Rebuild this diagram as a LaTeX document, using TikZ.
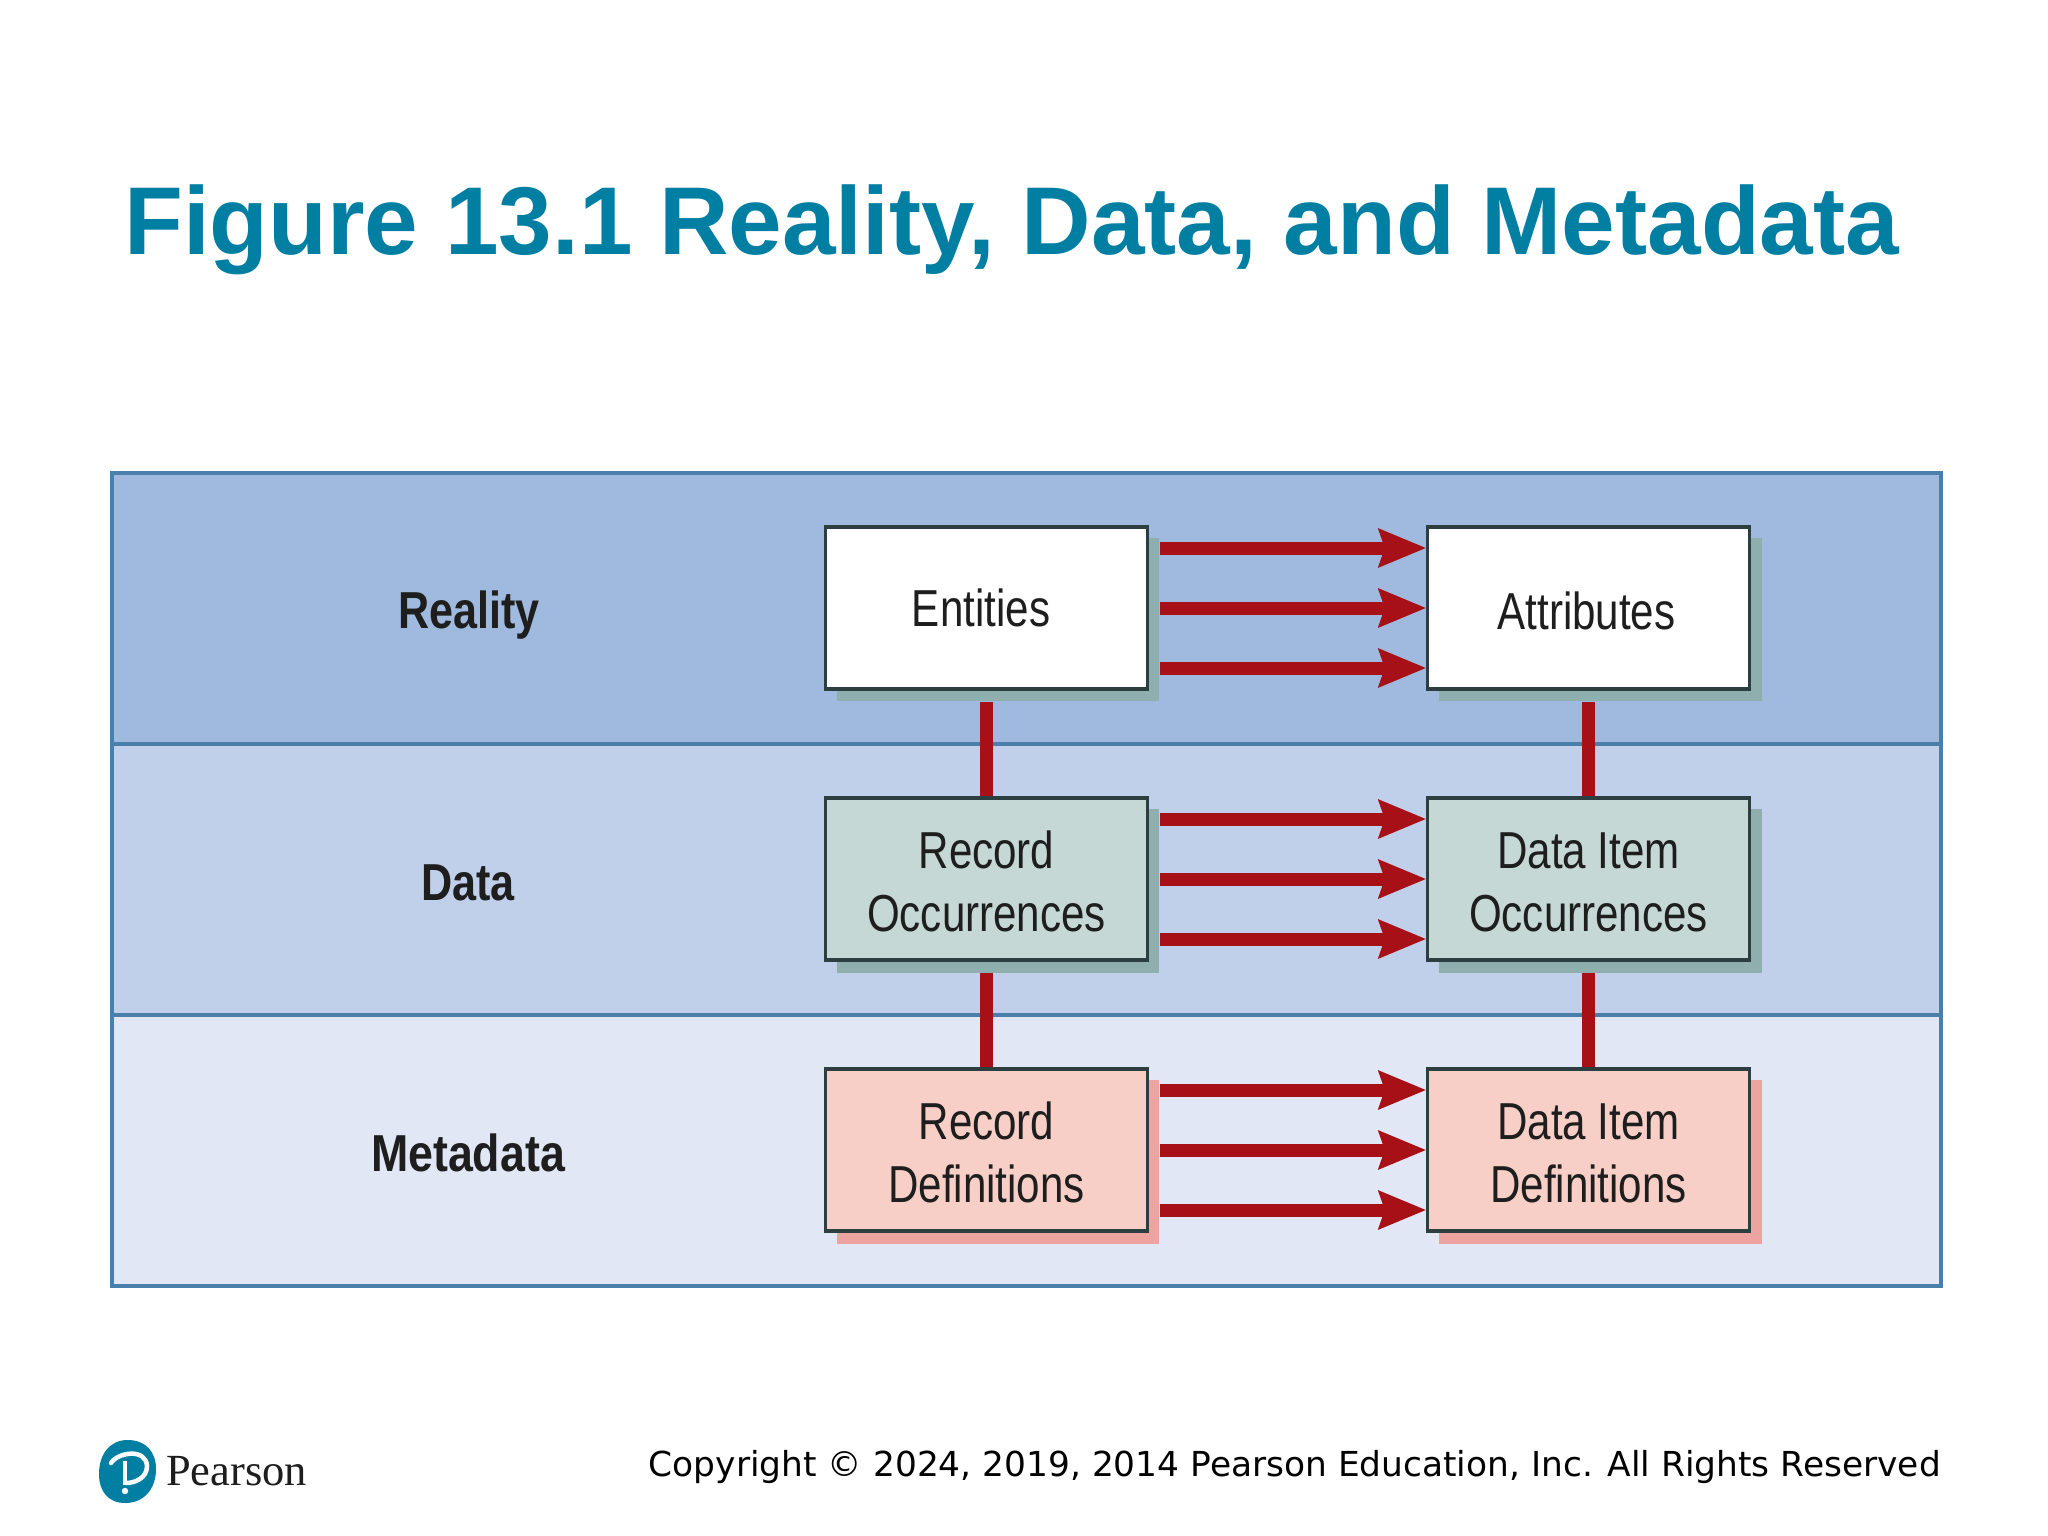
\documentclass[tikz,border=0pt]{standalone}
\usepackage{fontspec}
\usetikzlibrary{arrows.meta,calc}
\setmainfont{Liberation Sans}
\newfontfamily\narrowf[FakeStretch=0.81]{Liberation Sans}
\newfontfamily\narrowb[FakeStretch=0.83]{Liberation Sans Bold}
\newfontfamily\copyf{DejaVu Sans}
\newfontfamily\pearsonf{Liberation Serif}
\definecolor{teal}{HTML}{007FA3}
\definecolor{bandA}{HTML}{A0BADF}
\definecolor{bandB}{HTML}{C1D0EA}
\definecolor{bandC}{HTML}{E2E7F5}
\definecolor{bandline}{HTML}{4B7FAB}
\definecolor{boxline}{HTML}{2C3E40}
\definecolor{shadeG}{HTML}{8FAFAE}
\definecolor{shadeR}{HTML}{EDA3A0}
\definecolor{fillG}{HTML}{C5D8D6}
\definecolor{fillR}{HTML}{F7CFC6}
\definecolor{arrowred}{HTML}{A61016}
\definecolor{ink}{HTML}{1E1E1E}
\tikzset{
  band/.style={fill=#1,draw=none},
  bandedge/.style={draw=bandline,line width=3.5pt},
  boxn/.style={draw=boxline,line width=3.5pt,minimum width=322pt,minimum height=162pt,inner sep=0pt,
    align=center,text=ink,font=\fontsize{52}{63}\selectfont\narrowf},
  rowlabel/.style={text=ink,inner sep=0pt,font=\fontsize{52}{63}\selectfont\narrowb},
  flow/.style={draw=arrowred,line width=13pt,shorten <=11pt,shorten >=0pt,
    -{Stealth[length=48pt,width=40pt,inset=7pt,line width=0pt]}},
  link/.style={draw=arrowred,line width=13pt,shorten <=11pt},
}
\begin{document}
\begin{tikzpicture}[x=1pt,y=-1pt]
\useasboundingbox (0,0) rectangle (2048,1536);
\fill[white] (0,0) rectangle (2048,1536);
\node[anchor=base west,inner sep=0pt,text=teal,font=\fontsize{96.3}{120}\selectfont\bfseries] (title) at (124,254) {Figure 13.1 Reality, Data, and Metadata};
\fill[band=bandA] (112,473) rectangle (1941,744);
\fill[band=bandB] (112,744) rectangle (1941,1015);
\fill[band=bandC] (112,1015) rectangle (1941,1286);
\draw[bandedge] (112,744) -- (1941,744);
\draw[bandedge] (112,1015) -- (1941,1015);
\draw[bandedge] (112,473) rectangle (1941,1286);
\node[rowlabel] (reality) at (469,615) {Reality};
\node[rowlabel] (data) at (468,883) {Data};
\node[rowlabel] (metadata) at (468,1153) {\addfontfeature{FakeStretch=0.86}Metadata};
% shadows
\fill[shadeG] (837,538) rectangle (1159,701);
\fill[shadeG] (1439,538) rectangle (1762,701);
\fill[shadeG] (837,809) rectangle (1159,973);
\fill[shadeG] (1439,809) rectangle (1762,973);
\fill[shadeR] (837,1080) rectangle (1159,1244);
\fill[shadeR] (1439,1080) rectangle (1762,1244);
% boxes
\node[boxn,fill=white] (ent) at (986.5,608) {Entities\hspace*{11pt}};
\node[boxn,fill=white] (att) at (1588.5,608) {\rule{0pt}{44pt}Attributes\hspace*{4pt}};
\node[boxn,fill=fillG] (rocc) at (986.5,879) {\rule{0pt}{42pt}Record\\Occurrences};
\node[boxn,fill=fillG] (docc) at (1588.5,879) {\rule{0pt}{42pt}Data Item\\Occurrences};
\node[boxn,fill=fillR] (rdef) at (986.5,1150) {\rule{0pt}{42pt}Record\\Definitions};
\node[boxn,fill=fillR] (ddef) at (1588.5,1150) {\rule{0pt}{42pt}Data Item\\Definitions};
% vertical links
\draw[link] (ent.south) -- (rocc.north);
\draw[link] (att.south) -- (docc.north);
\draw[link] (rocc.south) -- (rdef.north);
\draw[link] (docc.south) -- (ddef.north);
% arrows
\foreach \a/\b in {ent/att,rocc/docc,rdef/ddef}{
  \draw[flow] ([yshift=60pt]\a.east) -- ([yshift=60pt]\b.west);
  \draw[flow] (\a.east) -- (\b.west);
  \draw[flow] ([yshift=-60pt]\a.east) -- ([yshift=-60pt]\b.west);
}
% logo
\fill[teal] (127.5,1440) .. controls (146,1440) and (156,1452) .. (156,1469)
  .. controls (156,1489) and (144,1503) .. (125,1503)
  .. controls (108,1503) and (99,1491) .. (99,1474)
  .. controls (99,1454) and (110,1440) .. (127.5,1440) -- cycle;
\draw[white,line width=4.5pt,line cap=round] (111,1463) .. controls (118,1452) and (146,1448) .. (147,1466)
  .. controls (147,1478) and (135,1483) .. (126,1483);
\draw[white,line width=4pt] (125,1461) -- (125,1485);
\fill[white] (125,1491) circle (3.2);
\node[anchor=base west,inner sep=0pt,text=ink,font=\fontsize{44.5}{50}\selectfont\pearsonf] (pearson) at (166,1485) {Pearson};
\node[anchor=base east,inner sep=0pt,text=black,font=\fontsize{34.4}{42}\selectfont\copyf] (copy) at (1941,1476) {Copyright © 2024, 2019, 2014 Pearson Education, Inc. All Rights Reserved};
\end{tikzpicture}
\end{document}
